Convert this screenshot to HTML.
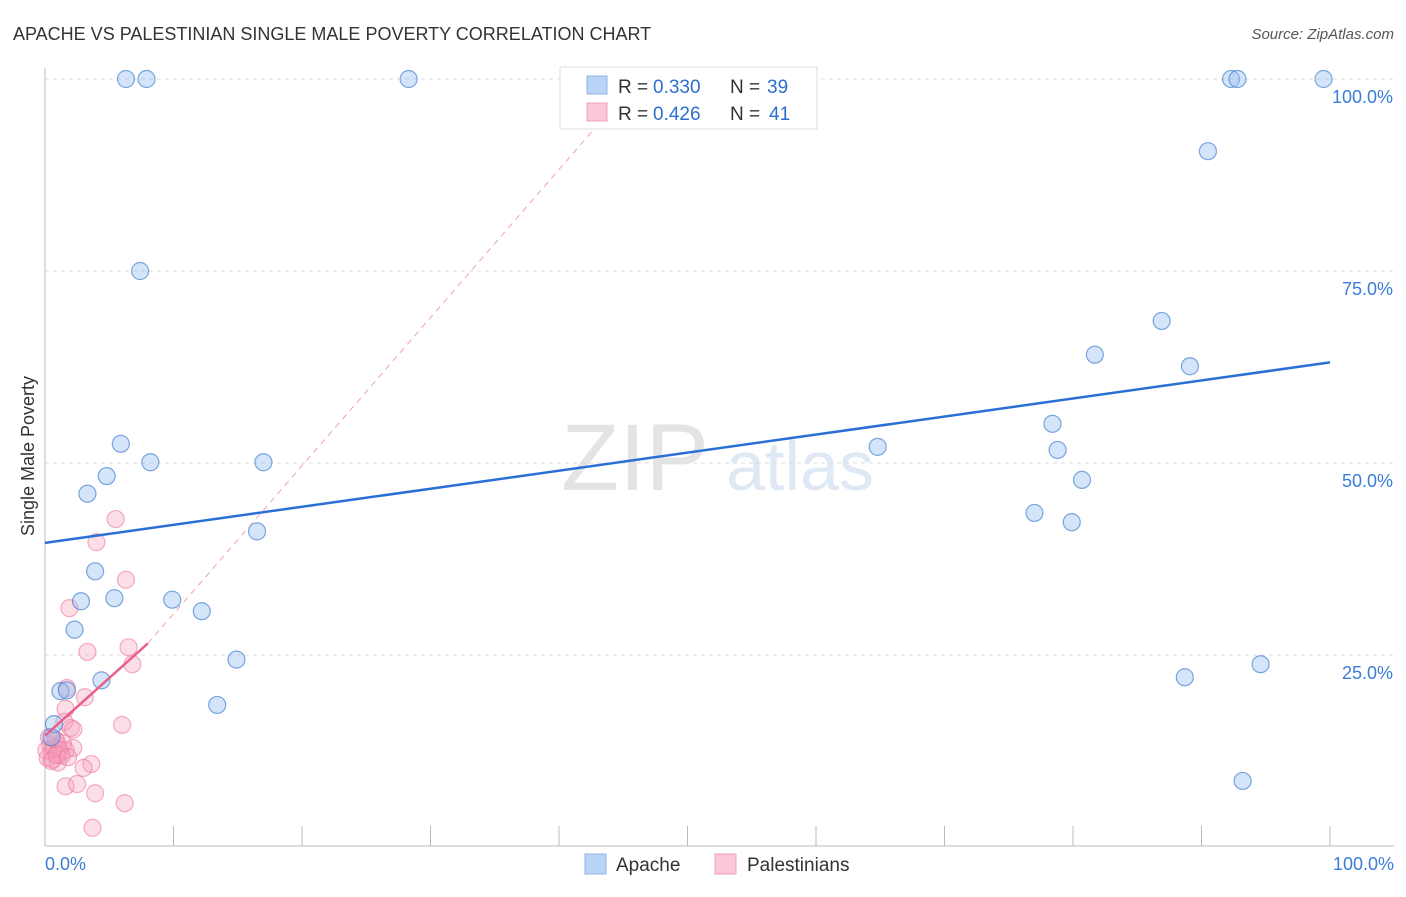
<!DOCTYPE html>
<html><head><meta charset="utf-8"><style>
body{margin:0;background:#fff;font-family:"Liberation Sans",sans-serif}
svg text{font-family:"Liberation Sans",sans-serif}
</style></head><body>
<svg id="c" width="1406" height="892" viewBox="0 0 1406 892">
<text x="13" y="40" font-size="18" fill="#333">APACHE VS PALESTINIAN SINGLE MALE POVERTY CORRELATION CHART</text>
<text x="1394" y="39" font-size="15" fill="#555" font-style="italic" text-anchor="end">Source: ZipAtlas.com</text>
<text x="34" y="456" font-size="18" fill="#333" text-anchor="middle" transform="rotate(-90 34 456)">Single Male Poverty</text>
<g><text x="635" y="490" font-size="95" fill="#e4e4e4" font-family="Liberation Serif" text-anchor="middle">ZIP</text><text x="800" y="490" font-size="70" fill="#dfe8f5" text-anchor="middle">atlas</text></g>
<g id="grid"></g>
<g id="pts"></g>
<g id="lines"></g>
<g>
<rect x="560" y="67" width="257" height="62" fill="#fff" stroke="#ddd"/>
<rect x="587" y="76" width="20" height="18" fill="#b8d3f5" stroke="#8fb5e6"/>
<rect x="587" y="103" width="20" height="18" fill="#fac8d6" stroke="#f0a0b8"/>
<text x="618" y="93" font-size="19" fill="#333">R =</text><text x="653" y="93" font-size="19" fill="#2b6fd0">0.330</text>
<text x="730" y="93" font-size="19" fill="#333">N =</text><text x="767" y="93" font-size="19" fill="#2b6fd0">39</text>
<text x="618" y="120" font-size="19" fill="#333">R =</text><text x="653" y="120" font-size="19" fill="#2b6fd0">0.426</text>
<text x="730" y="120" font-size="19" fill="#333">N =</text><text x="769" y="120" font-size="19" fill="#2b6fd0">41</text>
</g>
<g>
<rect x="585" y="854" width="21" height="20" fill="#b8d3f5" stroke="#8fb5e6"/>
<text x="616" y="871" font-size="19" fill="#333">Apache</text>
<rect x="715" y="854" width="21" height="20" fill="#fac8d6" stroke="#f0a0b8"/>
<text x="747" y="871" font-size="19" fill="#333">Palestinians</text>
</g>
</svg>
<script>
const yTicks=[25,50,75,100];
const apacheX=[6.3,7.9,28.3,92.3,92.8,99.5,90.5,7.4,86.9,81.7,89.1,5.9,8.2,17.0,4.8,64.8,78.4,78.8,80.7,3.3,77.0,79.9,16.5,3.9,2.8,5.4,9.9,12.2,2.3,14.9,88.7,94.6,4.4,1.2,1.7,13.4,0.7,93.2,0.5];
const apacheY=[100,100,100,100,100,100,90.6,75,68.5,64.1,62.6,52.5,50.1,50.1,48.3,52.1,55.1,51.7,47.8,46.0,43.5,42.3,41.1,35.9,32.0,32.4,32.2,30.7,28.3,24.4,22.1,23.8,21.7,20.3,20.4,18.5,16.0,8.6,14.3];
const palX=[5.5,4.0,6.3,1.9,6.5,3.3,6.8,1.7,3.1,1.6,6.0,1.5,2.0,2.2,2.2,3.6,3.0,1.6,3.9,2.5,6.2,3.7,0.4,0.5,0.8,0.2,1.0,1.2,0.6,1.3,0.9,0.1,1.6,1.0,0.3,0.7,1.1,1.4,0.5,0.9,1.8];
const palY=[42.7,39.7,34.8,31.1,26.0,25.4,23.8,20.7,19.5,18.0,15.9,16.3,15.5,15.3,12.9,10.8,10.3,7.9,7.0,8.2,5.7,2.5,13.3,12.4,14.0,11.6,13.2,12.2,11.4,11.9,13.8,12.6,12.6,11.0,14.3,12.9,12.7,13.5,11.2,12.0,11.7];
const blueLine=[0,39.6,100,63.1];
const pinkLine=[0,14.5,8,26.5];
const pinkDash=[8,26.5,43,94];
const X=v=>45+v*12.85, Y=v=>847-v*7.68;
const NS='http://www.w3.org/2000/svg';
function mk(t,a,p){const e=document.createElementNS(NS,t);for(const k in a)e.setAttribute(k,a[k]);p.appendChild(e);return e;}
const g=document.getElementById('grid');
yTicks.forEach(t=>{
 const l=mk('line',{x1:45,x2:1394,y1:Y(t),y2:Y(t),stroke:'#ddd','stroke-dasharray':'4,4'},g);
 
 
 const tx=mk('text',{x:1393,y:Y(t)+24,'font-size':18,fill:'#3b7dd8','text-anchor':'end'},g);tx.textContent=t.toFixed(1)+'%';
 
 
});
mk('line',{x1:45,x2:45,y1:68,y2:846,stroke:'#bbb'},g);
mk('line',{x1:45,x2:1394,y1:846,y2:846,stroke:'#bbb'},g);
for(let i=1;i<=10;i++){mk('line',{x1:X(i*10),x2:X(i*10),y1:826,y2:846,stroke:'#bbb'},g);}
const x0=mk('text',{x:45,y:870,'font-size':18,fill:'#3b7dd8'},g);x0.textContent='0.0%';


const x1=mk('text',{x:1394,y:870,'font-size':18,fill:'#3b7dd8','text-anchor':'end'},g);x1.textContent='100.0%';


const p=document.getElementById('pts');
palX.forEach((v,i)=>{const c=mk('circle',{cx:X(v),cy:Y(palY[i]),r:8.5,fill:'rgba(246,160,187,0.35)',stroke:'rgba(236,120,160,0.6)','stroke-width':1.2},p);
 
 });
apacheX.forEach((v,i)=>{const c=mk('circle',{cx:X(v),cy:Y(apacheY[i]),r:8.5,fill:'rgba(150,190,240,0.4)',stroke:'rgba(70,130,210,0.7)','stroke-width':1.2},p);
 
 });
const L=document.getElementById('lines');
const bl=mk('line',{x1:X(blueLine[0]),y1:Y(blueLine[1]),x2:X(blueLine[2]),y2:Y(blueLine[3]),stroke:'#2a6fd6','stroke-width':2.5},L);


const pd=mk('line',{x1:X(pinkDash[0]),y1:Y(pinkDash[1]),x2:X(pinkDash[2]),y2:Y(pinkDash[3]),stroke:'#eea0b8','stroke-width':1,'stroke-dasharray':'6,5'},L);


const pl=mk('line',{x1:X(pinkLine[0]),y1:Y(pinkLine[1]),x2:X(pinkLine[2]),y2:Y(pinkLine[3]),stroke:'#e8608a','stroke-width':2.5},L);


</script>
</body></html>
